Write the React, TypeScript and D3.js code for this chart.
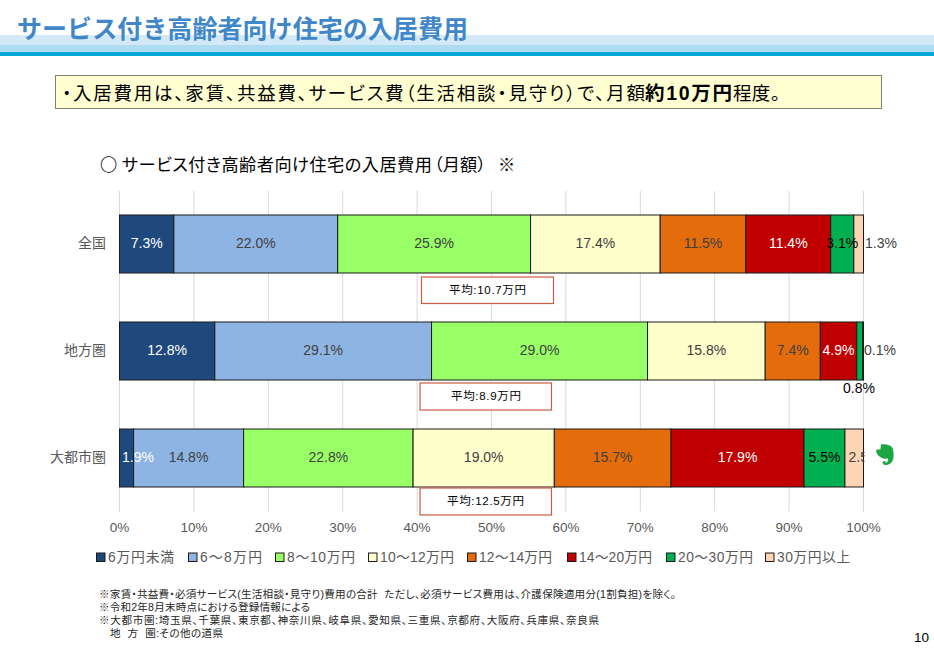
import React from "react";
import * as d3 from "d3";

const categories = ["全国", "地方圏", "大都市圏"];
const seriesNames = ["6万円未満", "6～8万円", "8～10万円", "10～12万円", "12～14万円", "14～20万円", "20～30万円", "30万円以上"];
const seriesColors = ["#1f497d", "#8eb4e3", "#99ff66", "#ffffcc", "#e46c0a", "#c00000", "#00b050", "#fcd5b5"];
const labelColors = ["#ffffff", "#404040", "#404040", "#404040", "#404040", "#ffffff", "#000000", "#404040"];
const national = [7.3, 22.0, 25.9, 17.4, 11.5, 11.4, 3.1, 1.3];
const regional = [12.8, 29.1, 29.0, 15.8, 7.4, 4.9, 0.8, 0.1];
const metro = [1.9, 14.8, 22.8, 19.0, 15.7, 17.9, 5.5, 2.5];
const rows = [national, regional, metro];
const averages = ["平均:10.7万円", "平均:8.9万円", "平均:12.5万円"];
const ticks = [0, 10, 20, 30, 40, 50, 60, 70, 80, 90, 100];
const notes = [
  "※家賃・共益費・必須サービス(生活相談・見守り)費用の合計  ただし、必須サービス費用は、介護保険適用分(1割負担)を除く。",
  "※令和2年8月末時点における登録情報による",
  "※大都市圏:埼玉県、千葉県、東京都、神奈川県、岐阜県、愛知県、三重県、京都府、大阪府、兵庫県、奈良県",
  "地  方  圏:その他の道県",
];

const FONT = "'Liberation Sans', 'Noto Sans CJK JP', sans-serif";
const CJK = "'Noto Sans CJK JP', sans-serif";
const PALT = { fontFeatureSettings: "'palt'" };

const x = d3.scaleLinear().domain([0, 1]).range([119.5, 863.5]);
const y = d3.scaleBand<string>().domain(categories).range([190.5, 511.5]).paddingInner(0.458).paddingOuter(0.229);

const table = categories.map((c, i) => {
  const o: Record<string, number | string> = { cat: c };
  seriesNames.forEach((s, j) => (o[s] = rows[i][j]));
  return o;
});
const stacked = d3.stack<any>().keys(seriesNames).offset(d3.stackOffsetExpand)(table);

const avgBoxes = [
  { x: 421.5, y: 277, w: 132, h: 26.5, tx: 449, tw: 77 },
  { x: 420, y: 383, w: 131.5, h: 27, tx: 451, tw: 70 },
  { x: 420, y: 488, w: 131.5, h: 27, tx: 447, tw: 77 },
];
const legendX = [96, 188, 275, 368, 467, 567, 666, 765];
const legendW = [66, 62, 68, 74, 73, 73, 75, 73];
const noteX = [99, 99, 99, 110];
const noteW = [577, 211, 500, 113];

function labelFor(si: number, ci: number, x0: number, x1: number, cy: number) {
  const v = rows[ci][si].toFixed(1) + "%";
  let px = (x0 + x1) / 2;
  let py = cy - 0.7;
  let anchor: "middle" | "start" = "middle";
  let fill = labelColors[si];
  let clip: string | undefined;
  if (ci === 0 && si === 7) { px = 881; fill = "#404040"; }
  if (ci === 1 && si === 7) { px = 880; }
  if (ci === 1 && si === 6) { px = 859; py = cy + 36.5; fill = "#000000"; }
  if (ci === 2 && si === 0) { px = 138; }
  if (ci === 2 && si === 1) { px = 188.5; }
  if (ci === 2 && si === 7) { px = 848.5; anchor = "start"; clip = "url(#plotClip)"; }
  return (
    <text key={`l${si}-${ci}`} x={px} y={py} dy="0.36em" textAnchor={anchor} fill={fill} fontSize={14} clipPath={clip}>
      {v}
    </text>
  );
}

export default function App() {
  return (
    <svg width={934} height={658} style={{ position: "absolute", left: 0, top: 0, background: "#fff" }} fontFamily={FONT}>
      <defs>
        <clipPath id="plotClip">
          <rect x={100} y={180} width={764.5} height={340} />
        </clipPath>
      </defs>
      <rect x={0} y={35} width={934} height={10} fill="#d3e9f8" />
      <rect x={0} y={45} width={934} height={7} fill="#aedcf0" />
      <rect x={0} y={52} width={934} height={4} fill="#00a8d8" />
      <text x={17} y={38} fontSize={25} fontWeight={700} fill="#3f87c8" textLength={451} fontFamily={CJK}>サービス付き高齢者向け住宅の入居費用</text>

      <rect x={55.5} y={75.5} width={826} height={33} fill="#ffffd2" stroke="#808070" strokeWidth={1} />
      <g fontSize={18.5} fill="#000">
        <text x={62} y={100} textLength={583} style={PALT} fontFamily={CJK}>・入居費用は、家賃、共益費、サービス費（生活相談・見守り）で、月額</text>
        <text x={645} y={100} textLength={87} fontWeight={700} fontSize={19.5}>約10万円</text>
        <text x={733} y={100} textLength={47} style={PALT} fontFamily={CJK}>程度。</text>
      </g>

      <g fontSize={17.2} fill="#000" fontFamily={CJK}>
        <text x={100} y={171} fontWeight={700}>○</text>
        <text x={122} y={171} textLength={310} style={PALT}>サービス付き高齢者向け住宅の入居費用</text>
        <text x={434} y={171} style={PALT} textLength={52}>（月額）</text>
        <text x={498} y={171}>※</text>
      </g>

      {ticks.map((t) => (
        <line key={t} x1={x(t / 100)} x2={x(t / 100)} y1={191} y2={511.5} stroke="#d9d9d9" strokeWidth={1} />
      ))}
      {ticks.map((t) => (
        <text key={t} x={x(t / 100)} y={527} dy="0.36em" textAnchor="middle" fontSize={13.5} fill="#595959">{t}%</text>
      ))}

      {stacked.map((s, si) =>
        s.map((d, ci) => (
          <rect
            key={`${si}-${ci}`}
            x={x(d[0])}
            y={y(categories[ci])!}
            width={x(d[1]) - x(d[0])}
            height={y.bandwidth()}
            fill={seriesColors[si]}
            stroke="#1a1a1a"
            strokeWidth={1}
          />
        ))
      )}

      {categories.map((c) => (
        <text key={c} x={106} y={y(c)! + y.bandwidth() / 2 - 1} dy="0.36em" textAnchor="end" fontSize={14} fill="#595959">{c}</text>
      ))}

      {stacked.map((s, si) =>
        s.map((d, ci) => labelFor(si, ci, x(d[0]), x(d[1]), y(categories[ci])! + y.bandwidth() / 2))
      )}

      {avgBoxes.map((b, i) => (
        <g key={i}>
          <rect x={b.x} y={b.y} width={b.w} height={b.h} fill="#fff" stroke="#cf5a43" strokeWidth={1.2} />
          <text x={b.tx} y={b.y + b.h / 2 - 0.5} dy="0.36em" fontSize={11.5} fill="#000" textLength={b.tw}>{averages[i]}</text>
        </g>
      ))}

      {seriesNames.map((s, i) => (
        <g key={s}>
          <rect x={legendX[i] + 0.5} y={553} width={8.5} height={8.5} fill={seriesColors[i]} stroke="#1a1a1a" strokeWidth={1} />
          <text x={legendX[i] + 12} y={557.5} dy="0.36em" fontSize={13.8} fill="#595959" textLength={legendW[i]}>{s}</text>
        </g>
      ))}

      <path
        d="M881 444.5C885 443.8 891 445 892.5 448C894 452 894 458 892.5 461C890.8 464.5 886 466 883.8 464.6C881.8 463.2 882.8 460.6 884.8 461C886 461.3 886 462.6 885 463C887 463 888.6 461.4 888 458.6C884 459.3 878.6 457.6 876.8 453C875.8 451 875.8 450 877 449.4L880.4 449.4Z"
        fill="#1ba63f"
      />

      {notes.map((n, i) => (
        <text key={i} x={noteX[i]} y={594 + i * 13.2} dy="0.36em" fontSize={10.6} fill="#262626" xmlSpace="preserve" style={PALT} textLength={noteW[i]}>{n}</text>
      ))}
      <text x={914} y={637} dy="0.36em" fontSize={13.5} fill="#000">10</text>
    </svg>
  );
}
